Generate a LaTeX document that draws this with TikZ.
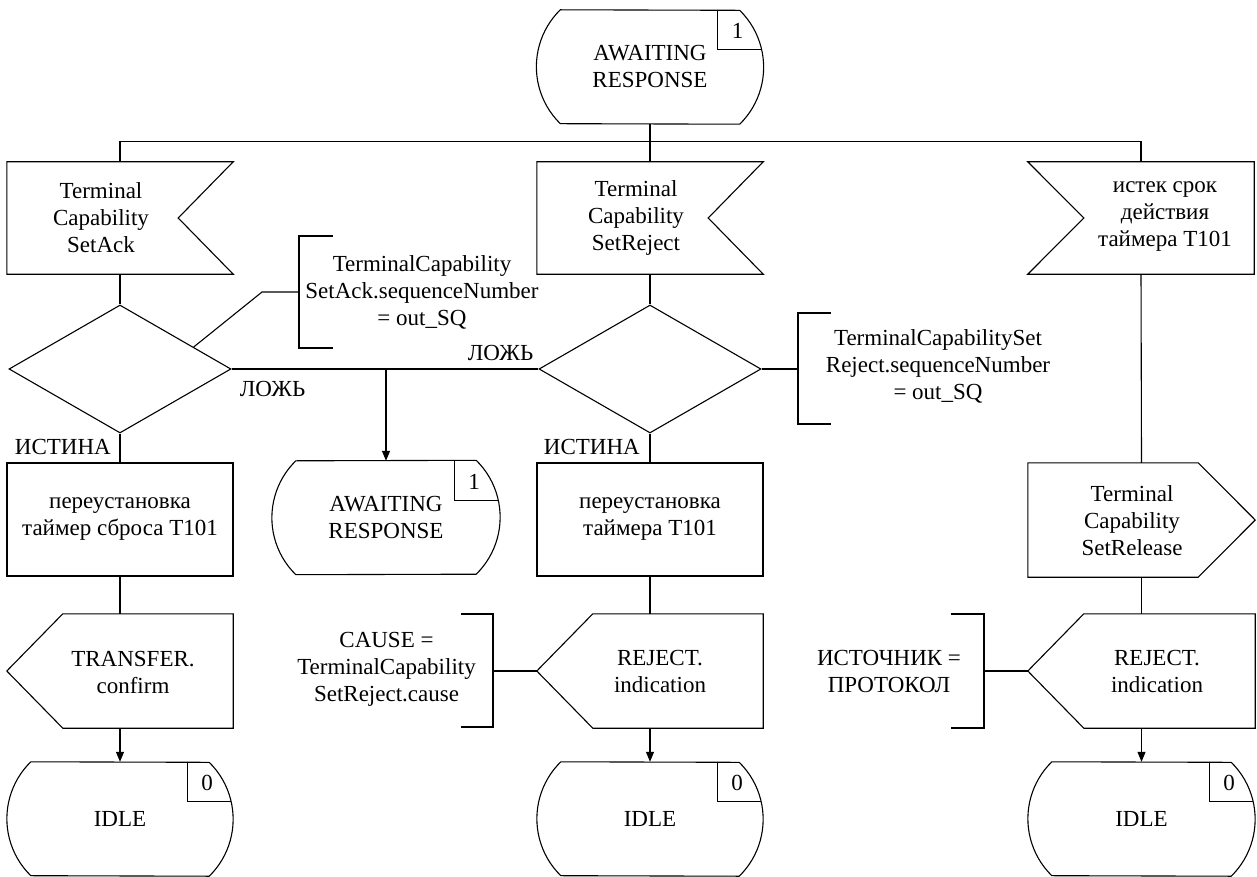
\documentclass[tikz,border=0pt]{standalone}
\usepackage{fontspec}
\setmainfont{Liberation Serif}
\usetikzlibrary{shapes.geometric,arrows.meta,calc}
\tikzset{
  ol/.style={line width=1.1pt, line join=miter},
  txt/.style={font=\fontsize{23}{27}\selectfont, align=center, inner sep=0pt},
  blk/.style={txt, draw=none, minimum width=226pt, minimum height=114pt},
  task/.style={blk, draw, ol, minimum height=113pt},
  dec/.style={diamond, draw, ol, minimum width=222pt, minimum height=128pt, inner sep=0pt},
  conn/.style={ol},
  arr/.style={ol, -{Triangle[length=10pt,width=8pt]}},
  brk/.style={ol},
}
% state symbol outline with number box
\newcommand\sdlStateOutline[2]{%
  \draw[ol] ([xshift=24pt]#1.north west) arc[start angle=134.4,end angle=225.6,radius=79.7pt]
     -- ([xshift=-24pt]#1.south east) arc[start angle=-45.6,end angle=45.6,radius=79.7pt] -- cycle;
  \draw[ol] ([xshift=-46pt]#1.north east) -- ++(0,-40) -- ++(44.2,0);
  \node[txt] (#1n) at ([xshift=-26pt,yshift=-21pt]#1.north east) {#2};
}
% input signal, notch on the east side
\newcommand\sdlInNotchE[1]{%
  \draw[ol] (#1.north west) -- (#1.north east) -- ([xshift=-55pt]#1.east) -- (#1.south east) -- (#1.south west) -- cycle;}
% input signal, notch on the west side
\newcommand\sdlInNotchW[1]{%
  \draw[ol] (#1.north west) -- (#1.north east) -- (#1.south east) -- (#1.south west) -- ([xshift=56pt]#1.west) -- cycle;}
% output signal, point on the west side
\newcommand\sdlOutPtW[1]{%
  \draw[ol] (#1.west) -- ([xshift=56pt]#1.north west) -- (#1.north east) -- (#1.south east) -- ([xshift=56pt]#1.south west) -- cycle;}
% output signal, point on the east side
\newcommand\sdlOutPtE[1]{%
  \draw[ol] (#1.north west) -- ([xshift=-57pt]#1.north east) -- (#1.east) -- ([xshift=-57pt]#1.south east) -- (#1.south west) -- cycle;}
\begin{document}
\begin{tikzpicture}[x=1pt,y=1pt]
\useasboundingbox (0,0) rectangle (1257,-877);

% ---- top state
\node[blk, minimum width=227pt] (s0) at (650,-67) {AWAITING\\RESPONSE};
\sdlStateOutline{s0}{1}

% ---- inputs
\node[blk, minimum height=112pt] (in1) at (120,-218) {};
\sdlInNotchE{in1}
\node[txt] (in1t) at (101,-218) {Terminal\\Capability\\SetAck};

\node[blk, minimum height=112pt] (in2) at (650,-218) {};
\sdlInNotchE{in2}
\node[txt] (in2t) at (636,-218) {Terminal\\Capability\\SetReject};

\node[blk, minimum height=112pt, minimum width=226pt] (in3) at (1141,-218) {};
\sdlInNotchW{in3}
\node[txt] (in3t) at (1165,-217) {истек срок\\действия\\таймера T101};

% ---- decisions
\node[dec] (d1) at (120,-369) {};
\node[dec] (d2) at (650,-369) {};

% ---- tasks / state / output row
\node[task] (t1) at (120,-519.5) {переустановка\\таймер сброса T101};
\node[blk, minimum width=228pt, minimum height=113pt] (s1) at (386,-517.5) {AWAITING\\RESPONSE};
\sdlStateOutline{s1}{1}
\node[task] (t2) at (650,-519.5) {переустановка\\таймера T101};

\node[blk, minimum width=227pt] (o3) at (1141.5,-520) {};
\sdlOutPtE{o3}
\node[txt] (o3t) at (1132,-521) {Terminal\\Capability\\SetRelease};

% ---- outputs
\node[blk] (o1) at (120,-671) {};
\sdlOutPtW{o1}
\node[txt] (o1t) at (133,-672) {TRANSFER.\\confirm};

\node[blk] (o2) at (650,-671) {};
\sdlOutPtW{o2}
\node[txt] (o2t) at (660,-671) {REJECT.\\indication};

\node[blk, minimum width=227pt] (o4) at (1141.5,-671) {};
\sdlOutPtW{o4}
\node[txt] (o4t) at (1157,-671.5) {REJECT.\\indication};

% ---- final states
\node[blk] (i1) at (120,-819) {IDLE};
\sdlStateOutline{i1}{0}
\node[blk] (i2) at (650,-819) {IDLE};
\sdlStateOutline{i2}{0}
\node[blk, minimum width=227pt] (i3) at (1141.5,-819) {IDLE};
\sdlStateOutline{i3}{0}

% ---- connectors
\draw[conn] (s0.south) -- (in2.north);
\draw[conn] (in1.north) -- ++(0,20) -| (in3.north);
\draw[conn] (in1.south) -- (d1.north);
\draw[conn] (in2.south) -- (d2.north);
\draw[conn] (in3.south) -- (o3.north);
\draw[conn] (d1.south) -- (t1.north);
\draw[conn] (d2.south) -- (t2.north);
\draw[conn] (d1.east) -- (d2.west);
\coordinate (j1) at (s1.north |- d1.east);
\draw[arr] (j1) -- (s1.north);
\draw[conn] (t1.south) -- (o1.north);
\draw[conn] (t2.south) -- (o2.north);
\draw[conn] (o3.south) -- (o4.north);
\draw[arr] (o1.south) -- (i1.north);
\draw[arr] (o2.south) -- (i2.north);
\draw[arr] (o4.south) -- (i3.north);

% ---- branch labels
\node[txt, anchor=base east] (l1) at ([xshift=-9pt,yshift=8pt]t1.north) {ИСТИНА};
\node[txt, anchor=base east] (l2) at ([xshift=-10pt,yshift=8pt]t2.north) {ИСТИНА};
\node[txt, anchor=base west] (l3) at ([xshift=8pt,yshift=-27pt]d1.east) {ЛОЖЬ};
\node[txt, anchor=base east] (l4) at ([xshift=-5pt,yshift=9pt]d2.west) {ЛОЖЬ};

% ---- comments
\coordinate (b1) at (299,-292);
\draw[brk] ([xshift=34pt,yshift=56pt]b1) -- ([yshift=56pt]b1) -- ([yshift=-56pt]b1) -- ([xshift=34pt,yshift=-56pt]b1);
\node[txt] (c1) at (422,-292) {TerminalCapability\\SetAck.sequenceNumber\\= out\_SQ};
\draw[conn] ($(d1.north)!0.66!(d1.east)$) -- ([xshift=-37pt]b1) -- (b1);

\coordinate (b2) at (798,-369);
\draw[brk] ([xshift=33pt,yshift=56pt]b2) -- ([yshift=56pt]b2) -- ([yshift=-55pt]b2) -- ([xshift=33pt,yshift=-55pt]b2);
\node[txt] (c2) at (938,-366) {TerminalCapabilitySet\\Reject.sequenceNumber\\= out\_SQ};
\draw[conn] (d2.east) -- (b2);

\coordinate (b3) at (493,-671);
\draw[brk] ([xshift=-32pt,yshift=57pt]b3) -- ([yshift=57pt]b3) -- ([yshift=-56pt]b3) -- ([xshift=-32pt,yshift=-56pt]b3);
\node[txt] (c3) at (386.5,-669.5) {CAUSE =\\TerminalCapability\\SetReject.cause};
\draw[conn] (o2.west) -- (b3);

\coordinate (b4) at (984,-671);
\draw[brk] ([xshift=-33pt,yshift=57pt]b4) -- ([yshift=57pt]b4) -- ([yshift=-57pt]b4) -- ([xshift=-33pt,yshift=-57pt]b4);
\node[txt] (c4) at (889,-671.5) {ИСТОЧНИК =\\ПРОТОКОЛ};
\draw[conn] (o4.west) -- (b4);
\end{tikzpicture}
\end{document}
